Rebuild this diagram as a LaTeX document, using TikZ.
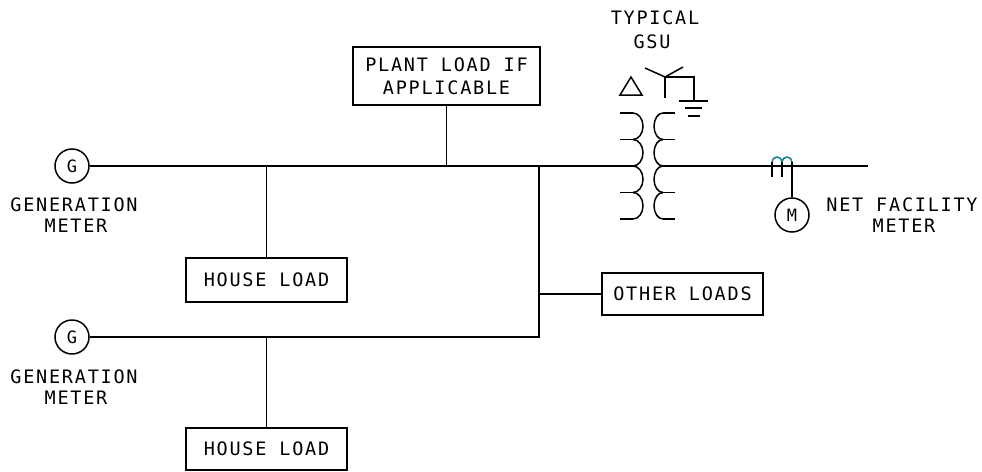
\documentclass[tikz,border=0pt]{standalone}
\usepackage{fontspec}
\newfontfamily\cadfont[LetterSpace=9.5]{DejaVu Sans Mono}
\newfontfamily\cadplain{DejaVu Sans Mono}
\definecolor{ctteal}{RGB}{20,130,140}
\begin{document}
\begin{tikzpicture}[x=1pt,y=-1pt,
  wire/.style={line width=1.5pt,black},
  lbl/.style={font=\cadfont\fontsize{18.5pt}{23pt}\selectfont,inner sep=0pt,align=center},
  loadbox/.style={draw,line width=1.5pt,lbl},
  meter/.style={draw,circle,line width=1.5pt,minimum size=34pt,inner sep=0pt,font=\cadplain\fontsize{17pt}{17pt}\selectfont}]
\useasboundingbox (0,0) rectangle (982,471);
% meters
\node[meter] (g1) at (72,166) {G};
\node[meter] (g2) at (72,337) {G};
\node[meter] (m) at (792,215) {M};
% labels
\node[lbl] (g1a) at (74,205) {GENERATION};
\node[lbl] (g1b) at (76,226) {METER};
\node[lbl] (g2a) at (74,377) {GENERATION};
\node[lbl] (g2b) at (76,398) {METER};
\node[lbl] (nfa) at (902,205) {NET FACILITY};
\node[lbl] (nfb) at (904,226) {METER};
\node[lbl] (typ) at (655,18) {TYPICAL};
\node[lbl] (gsu) at (652,42) {GSU};
% load boxes
\node[loadbox,minimum width=187pt,minimum height=58pt] (plant) at (446.5,76) {PLANT LOAD IF\\APPLICABLE};
\node[loadbox,minimum width=161pt,minimum height=44pt] (house1) at (266.5,280) {HOUSE LOAD};
\node[loadbox,minimum width=161pt,minimum height=42pt] (other) at (682.5,294) {OTHER LOADS};
\node[loadbox,minimum width=161pt,minimum height=42pt] (house2) at (266.5,449) {HOUSE LOAD};
% coordinates
\coordinate (pj) at (633,166);
\coordinate (sj) at (663,166);
\coordinate (busend) at (868,166);
\coordinate (tap) at (539,166);
\coordinate (tap2) at (539,337);
\coordinate (ctr) at (792,162);
% buses and branches
\draw[wire] (g1.east) -- (pj);
\draw[wire] (sj) -- (busend);
\draw[wire] (plant.south) -- (plant.south |- pj);
\draw[wire] (house1.north) -- (house1.north |- pj);
\draw[wire] (tap) -- (tap2) -- (g2.east);
\draw[wire] (other.west) -- (other.west -| tap);
\draw[wire] (house2.north) -- (house2.north |- tap2);
% transformer coils
\foreach \yy in {113,139.5,192.5,219} \draw[wire] (620,\yy) -- (633,\yy);
\foreach \yy in {113,139.5,192.5,219} \draw[wire] (663,\yy) -- (675,\yy);
\foreach \yy in {113,139.5,166,192.5}{
  \draw[wire] (633,\yy) arc[start angle=-90,end angle=90,x radius=10,y radius=13.25];
  \draw[wire] (663,\yy) arc[start angle=270,end angle=90,x radius=9,y radius=13.25];
}
% delta
\draw[wire,line join=miter] (631,77) -- (642,95) -- (620,95) -- cycle;
% wye and ground
\draw[wire] (645,68) -- (665,77) -- (683,67);
\draw[wire] (665,77) -- (665,98);
\draw[wire] (665,77) -- (694,77) -- (694,101);
\draw[wire] (679,101) -- (708,101);
\draw[wire] (685,108) -- (702,108);
\draw[wire] (688,116) -- (700,116);
% current transformer
\draw[ctteal,line width=1.5pt] (772,162) arc[start angle=180,end angle=360,radius=5];
\draw[ctteal,line width=1.5pt] (782,162) arc[start angle=180,end angle=360,radius=5];
\draw[wire] (772,162) -- (772,177);
\draw[wire] (782,162) -- (782,177);
\draw[wire] (ctr) -- (m.north);
\end{tikzpicture}
\end{document}
